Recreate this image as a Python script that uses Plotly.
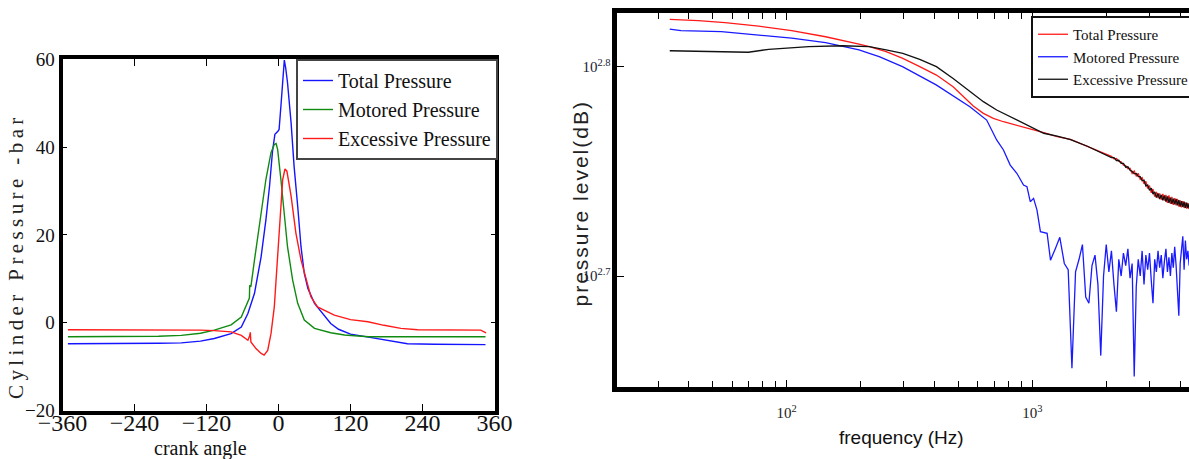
import plotly.graph_objects as go

# ---------------- Left chart: cylinder pressure vs crank angle ----------------
angle_total = [-351, -300, -250, -200, -162, -130, -107, -90, -79, -62, -51, -40, -29, -21, -15,
               -10, -6, -1, 1, 4, 7, 9.7, 12, 15, 21, 26, 32, 37.5, 43, 49, 60, 71, 87, 100, 120,
               150, 180, 215, 260, 300, 345]
total_pressure = [-4.8, -4.8, -4.8, -4.7, -4.6, -4.2, -3.6, -3.0, -2.5, -1.0, 2.1, 6.7, 15.0, 23.4, 31.0,
                  39.0, 42.9, 43.6, 44.0, 49.3, 55.4, 59.8, 58.0, 54.7, 45.5, 35.6, 26.5, 17.3, 11.2, 7.8,
                  4.4, 2.5, -0.2, -1.5, -2.6, -3.3, -4.0, -4.8, -4.9, -4.9, -5.0]

angle_motored = [-351, -300, -250, -200, -162, -130, -107, -90, -79, -62, -51, -48.5, -48, -46, -40,
                 -29, -21, -12.5, -7, -4, -1.4, 4, 9.7, 15, 23.6, 32, 43, 60, 87, 110, 150, 200, 260,
                 300, 345]
motored_pressure = [-3.2, -3.2, -3.2, -3.1, -2.9, -2.4, -1.7, -1.0, -0.5, 1.3, 4.5, 5.6, 8.5, 8.2, 14.3,
                    25.0, 32.6, 38.7, 40.6, 40.8, 39.4, 32.6, 24.2, 17.3, 9.7, 4.4, 0.6, -1.3, -2.3, -2.8,
                    -3.2, -3.2, -3.2, -3.2, -3.2]

angle_excess = [-351, -300, -250, -200, -162, -130, -107, -79, -62, -51, -48, -47, -46, -37.5, -29,
                -24, -18, -12.5, -7, -1.4, 4, 7, 10.8, 14, 21, 29, 37.5, 46, 54, 65, 82, 93, 120, 149,
                176, 204, 232, 300, 337, 346]
excess_pressure = [-1.6, -1.6, -1.6, -1.6, -1.7, -1.7, -1.8, -2.1, -2.9, -4.0, -3.0, -2.2, -4.4, -5.9, -7.0,
                   -7.4, -6.3, -2.5, 3.6, 15.0, 28.0, 32.6, 35.0, 34.5, 28.8, 20.4, 14.3, 9.7, 5.9, 3.6,
                   2.5, 1.7, 0.7, 0.2, -0.6, -1.3, -1.6, -1.7, -1.7, -2.3]

angle_ticks = [-360, -240, -120, 0, 120, 240, 360]
pressure_ticks = [-20, 0, 20, 40, 60]

# ---------------- Right chart: pressure level spectrum ----------------
# levels are given as exponents of 10 (the chart's y axis is logarithmic)
hf_freq_hz = [2100, 2150, 2200, 2250, 2300, 2350, 2400, 2450, 2500, 2550, 2600, 2650, 2700, 2750,
              2800, 2850, 2900, 2950, 3000, 3050, 3100, 3150, 3200, 3250, 3300, 3350, 3400, 3450,
              3500, 3550, 3600, 3650, 3700, 3750, 3800, 3850, 3900, 3950, 4000, 4050, 4100, 4150,
              4200, 4250, 4300, 4350, 4400]

freq_total_hz = [33.4, 43.6, 56.1, 76.8, 104.8, 144, 197, 217, 254, 297, 348, 407, 476, 523, 575, 632,
                 694, 763, 893, 1013, 1113, 1262, 1431, 1676, 1960] + hf_freq_hz
total_level_exp = [2.8226, 2.8220, 2.8210, 2.8194, 2.8172, 2.8143, 2.8108, 2.8096, 2.8072, 2.8040,
                   2.8000, 2.7960, 2.7904, 2.7857, 2.7812, 2.7777, 2.7753, 2.7737, 2.7717, 2.7698,
                   2.7685, 2.7666, 2.7653, 2.7618, 2.7586,
                   2.7572, 2.7560, 2.7562, 2.7548, 2.7545, 2.7530, 2.7528, 2.7512, 2.7515, 2.7490,
                   2.7502, 2.7478, 2.7490, 2.7462, 2.7470, 2.7440, 2.7452, 2.7418, 2.7432, 2.7398,
                   2.7415, 2.7380, 2.7402, 2.7372, 2.7395, 2.7365, 2.7392, 2.7360, 2.7388, 2.7350,
                   2.7385, 2.7345, 2.7378, 2.7340, 2.7372, 2.7338, 2.7368, 2.7332, 2.7362, 2.7328,
                   2.7358, 2.7325, 2.7352, 2.7322, 2.7348, 2.7320, 2.7340]

freq_motored_hz = [33.4, 37.1, 54.2, 76.8, 104.8, 144, 197, 217, 238, 296, 406, 557, 652, 716, 763,
                   813, 865, 921, 951, 981, 1012, 1045, 1079, 1149, 1186, 1242, 1294,
                   1350, 1400, 1450, 1500, 1550, 1600, 1650, 1700, 1750, 1800, 1850, 1900, 1950, 2000,
                   2050, 2100, 2150, 2200, 2250, 2300, 2350, 2400, 2450, 2500, 2550, 2600, 2650, 2700,
                   2750, 2800, 2850, 2900, 2950, 3000, 3050, 3100, 3150, 3200, 3250, 3300, 3350, 3400,
                   3450, 3500, 3550, 3600, 3650, 3700, 3750, 3800, 3850, 3900, 3950, 4000, 4050, 4100,
                   4150, 4200, 4250, 4300, 4350, 4400]
motored_level_exp = [2.8179, 2.8172, 2.8167, 2.8151, 2.8136, 2.8115, 2.8080, 2.8064, 2.8048, 2.8000,
                     2.7913, 2.7809, 2.7745, 2.7650, 2.7602, 2.7530, 2.7491, 2.7435, 2.7427, 2.7355,
                     2.7371, 2.7315, 2.7212, 2.7204, 2.7076, 2.7132, 2.7185,
                     2.7060, 2.7030, 2.6560, 2.7020, 2.7080, 2.7150, 2.6900, 2.6870, 2.7050, 2.7100,
                     2.6960, 2.6620, 2.7000, 2.7150, 2.7020, 2.7120, 2.6960, 2.6830, 2.7080, 2.7000,
                     2.7110, 2.7050, 2.7130, 2.6990, 2.7060, 2.6520, 2.6950, 2.7080, 2.7000, 2.7120,
                     2.6960, 2.7100, 2.7030, 2.7110, 2.6980, 2.6870, 2.7080, 2.7020, 2.7120, 2.7040,
                     2.7100, 2.6990, 2.7070, 2.7130, 2.7020, 2.7090, 2.7000, 2.7110, 2.7040, 2.7140,
                     2.7050, 2.6930, 2.6810, 2.7060, 2.7150, 2.7190, 2.7030, 2.7170, 2.7080, 2.7120,
                     2.7050, 2.7100]

freq_excess_hz = [33.4, 52.6, 69.8, 84.4, 98.8, 123, 169, 217, 254, 297, 348, 407, 476, 557, 632, 716,
                  812, 921, 1013, 1113, 1262, 1431, 1676, 1960] + hf_freq_hz
excess_level_exp = [2.8076, 2.8072, 2.8069, 2.8083, 2.8088, 2.8096, 2.8100, 2.8096, 2.8080, 2.8064,
                    2.8035, 2.8000, 2.7944, 2.7881, 2.7833, 2.7793, 2.7761, 2.7732, 2.7706, 2.7682,
                    2.7668, 2.7652, 2.7620, 2.7584,
                    2.7566, 2.7566, 2.7552, 2.7553, 2.7538, 2.7538, 2.7520, 2.7522, 2.7505, 2.7500,
                    2.7488, 2.7490, 2.7475, 2.7475, 2.7455, 2.7458, 2.7430, 2.7435, 2.7410, 2.7420,
                    2.7392, 2.7402, 2.7375, 2.7395, 2.7368, 2.7388, 2.7362, 2.7385, 2.7355, 2.7380,
                    2.7350, 2.7375, 2.7345, 2.7370, 2.7342, 2.7368, 2.7338, 2.7362, 2.7332, 2.7358,
                    2.7330, 2.7355, 2.7326, 2.7350, 2.7324, 2.7346, 2.7328]

freq_tick_hz = [100, 1000]
freq_tick_text = ["10<sup>2</sup>", "10<sup>3</sup>"]
freq_minor_hz = [20, 30, 40, 50, 60, 70, 80, 90, 200, 300, 400, 500, 600, 700, 800, 900, 2000, 3000, 4000]
level_tick_exp = [2.7, 2.8]
level_tick_text = ["10<sup>2.7</sup>", "10<sup>2.8</sup>"]

W, H = 1189, 459
SERIF = "Liberation Serif, Times New Roman, serif"
SANS = "Liberation Sans, Arial, sans-serif"

fig = go.Figure()

# left chart traces
fig.add_trace(go.Scatter(x=angle_total, y=total_pressure, mode="lines", name="Total Pressure",
                         line=dict(color="#1414ff", width=1.4), xaxis="x", yaxis="y", legend="legend"))
fig.add_trace(go.Scatter(x=angle_motored, y=motored_pressure, mode="lines", name="Motored Pressure",
                         line=dict(color="#108a10", width=1.4), xaxis="x", yaxis="y", legend="legend"))
fig.add_trace(go.Scatter(x=angle_excess, y=excess_pressure, mode="lines", name="Excessive Pressure",
                         line=dict(color="#ff1a1a", width=1.4), xaxis="x", yaxis="y", legend="legend"))

# right chart traces
fig.add_trace(go.Scatter(x=freq_total_hz, y=[10 ** e for e in total_level_exp], mode="lines",
                         name="Total Pressure", line=dict(color="#ff1a1a", width=1.3),
                         xaxis="x2", yaxis="y2", legend="legend2"))
fig.add_trace(go.Scatter(x=freq_motored_hz, y=[10 ** e for e in motored_level_exp], mode="lines",
                         name="Motored Pressure", line=dict(color="#1a1aff", width=1.3),
                         xaxis="x2", yaxis="y2", legend="legend2"))
fig.add_trace(go.Scatter(x=freq_excess_hz, y=[10 ** e for e in excess_level_exp], mode="lines",
                         name="Excessive Pressure", line=dict(color="#111111", width=1.3),
                         xaxis="x2", yaxis="y2", legend="legend2"))

axis_common = dict(showgrid=False, zeroline=False, showline=True, linecolor="black")

fig.update_layout(
    width=W, height=H,
    margin=dict(l=0, r=0, t=0, b=0, autoexpand=False),
    paper_bgcolor="white", plot_bgcolor="white",
    xaxis=dict(**axis_common, domain=[62.5 / W, 494.5 / W], range=[-360, 360], anchor="y",
               tickmode="array", tickvals=angle_ticks, ticks="inside", ticklen=7, tickwidth=1.2,
               tickcolor="black", linewidth=4, mirror="ticks", ticklabelstandoff=-12,
               tickfont=dict(family=SERIF, size=24, color="#111")),
    yaxis=dict(**axis_common, domain=[(H - 410.5) / H, (H - 59.2) / H], range=[-20, 60], anchor="x",
               tickmode="array", tickvals=pressure_ticks, ticks="inside", ticklen=4, tickwidth=1.2,
               tickcolor="black", linewidth=4, mirror="ticks",
               tickfont=dict(family=SERIF, size=19, color="#111")),
    xaxis2=dict(**axis_common, type="log", domain=[616.5 / W, 1.0], range=[1.307, 3.638], anchor="y2",
                tickmode="array", tickvals=freq_tick_hz, ticktext=freq_tick_text, ticks="inside",
                ticklen=7, tickwidth=1.2, tickcolor="black", linewidth=5, mirror="allticks",
                ticklabelstandoff=8,
                minor=dict(tickmode="array", tickvals=freq_minor_hz, ticks="inside", ticklen=6,
                           tickwidth=1.2, tickcolor="black"),
                tickfont=dict(family=SERIF, size=15, color="#222")),
    yaxis2=dict(**axis_common, type="log", domain=[(H - 387) / H, (H - 13.3) / H],
                range=[2.647, 2.8255], anchor="x2",
                tickmode="array", tickvals=[10 ** e for e in level_tick_exp], ticktext=level_tick_text,
                ticks="inside", ticklen=7, tickwidth=1.2, tickcolor="black", linewidth=5, mirror=False,
                ticklabelstandoff=-2,
                tickfont=dict(family=SERIF, size=15, color="#223")),
    legend=dict(x=296 / W, y=(H - 59) / H, xanchor="left", yanchor="top", xref="paper", yref="paper",
                bgcolor="white", bordercolor="#444", borderwidth=2,
                font=dict(family=SERIF, size=20, color="#111"), tracegroupgap=0),
    legend2=dict(x=1031 / W, y=(H - 16) / H, xanchor="left", yanchor="top", xref="paper", yref="paper",
                 bgcolor="white", bordercolor="#111", borderwidth=2,
                 font=dict(family=SERIF, size=15, color="#111"), tracegroupgap=0),
    showlegend=True,
    annotations=[
        dict(text='<span style="letter-spacing:4.4px">Cylinder Pressure -bar</span>', textangle=-90,
             x=16 / W, y=(H - 256) / H, xref="paper", yref="paper", showarrow=False,
             xanchor="center", yanchor="middle", font=dict(family=SERIF, size=21, color="#222")),
        dict(text="crank angle", x=200 / W, y=(H - 448) / H, xref="paper", yref="paper",
             showarrow=False, xanchor="center", yanchor="middle",
             font=dict(family=SERIF, size=20, color="#111")),
        dict(text='<span style="letter-spacing:2px">pressure level(dB)</span>', textangle=-90,
             x=579.5 / W, y=(H - 204) / H, xref="paper", yref="paper", showarrow=False,
             xanchor="center", yanchor="middle", font=dict(family=SANS, size=21, color="#222")),
        dict(text="frequency (Hz)", x=901 / W, y=(H - 437) / H, xref="paper", yref="paper",
             showarrow=False, xanchor="center", yanchor="middle",
             font=dict(family=SANS, size=19, color="#111")),
    ],
)

fig.write_html("out.html", config={"displayModeBar": False},
               post_script="document.body.style.margin='0';document.body.style.overflow='hidden';")
